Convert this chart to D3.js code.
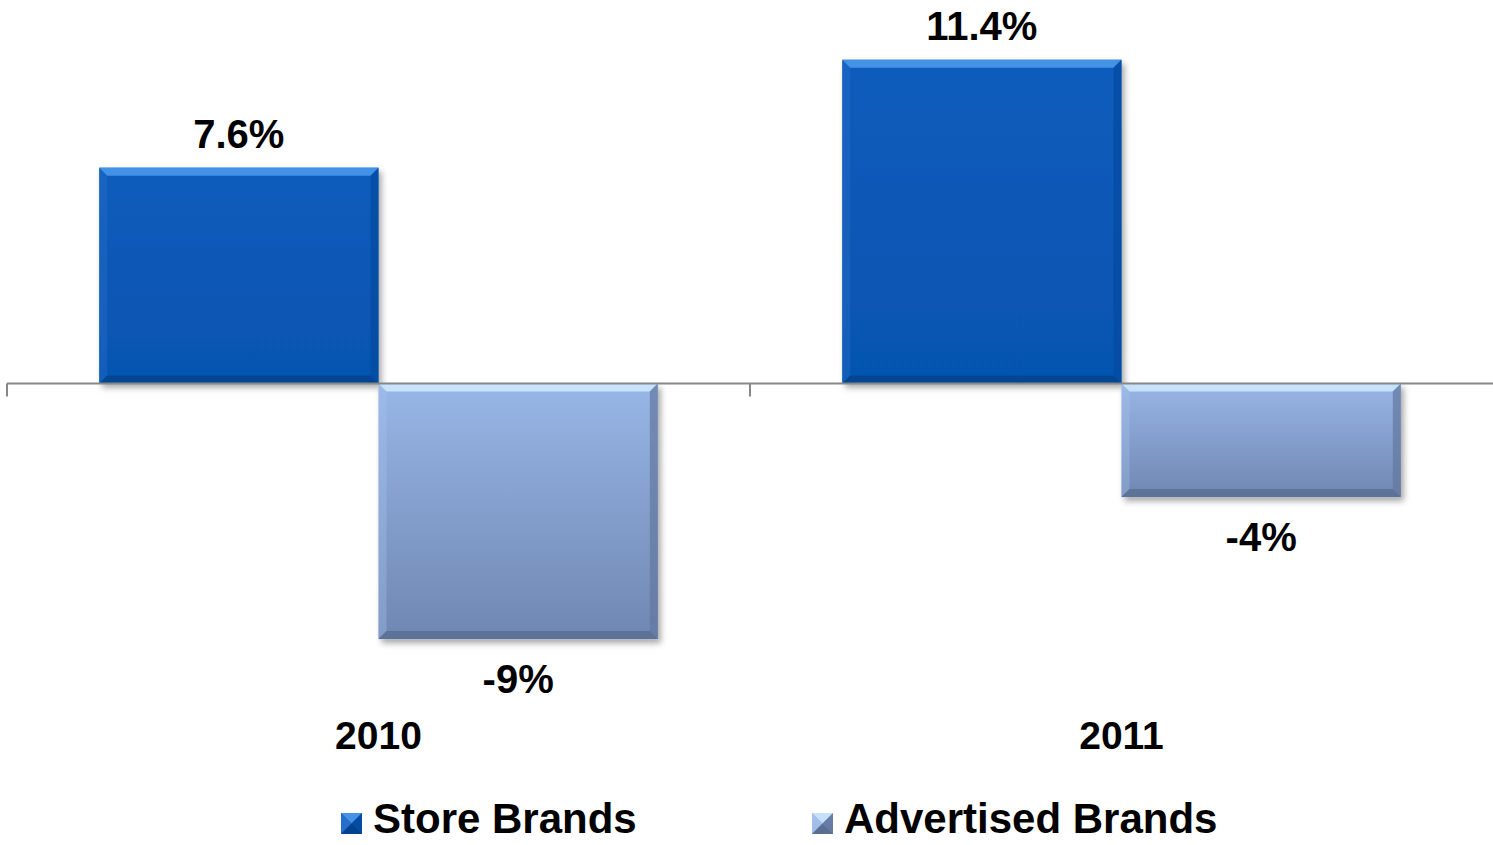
<!DOCTYPE html>
<html>
<head>
<meta charset="utf-8">
<script src="https://cdn.jsdelivr.net/npm/d3@7"></script>
<style>
  html, body { margin: 0; padding: 0; background: #fff; }
  svg { display: block; }
  text { font-family: "Liberation Sans", Arial, sans-serif; font-weight: bold; fill: #000; }
</style>
</head>
<body>
<svg id="chart" width="1493" height="845"></svg>
<script>
// Year-over-year unit sales change, store brands vs advertised brands
const categories = ["2010", "2011"];
const seriesNames = ["Store Brands", "Advertised Brands"];
const storeBrands = [7.6, 11.4];
const advertisedBrands = [-9, -4];
const valueLabels = [["7.6%", "-9%"], ["11.4%", "-4%"]];

const W = 1493, H = 845;
const svg = d3.select("#chart");
const defs = svg.append("defs");

// Bar look: body gradient, bevel colours per series
const styles = [
  { top: "#0a5cbc", bottom: "#0654b0", hiTop: "#4f9bec", hiSide: "#2a72cc", dark: "#033e88", darkSide: "#044a9f" },
  { top: "#98b6e6", bottom: "#6f87b2", hiTop: "#cfeaff", hiSide: "#a7c4ee", dark: "#56698c", darkSide: "#62779e" }
];
styles.forEach((s, i) => {
  const g = defs.append("linearGradient").attr("id", "body" + i)
    .attr("x1", 0).attr("y1", 0).attr("x2", 0).attr("y2", 1);
  g.append("stop").attr("offset", "0%").attr("stop-color", s.top);
  g.append("stop").attr("offset", "100%").attr("stop-color", s.bottom);
});
const shadow = defs.append("filter").attr("id", "shadow")
  .attr("x", "-10%").attr("y", "-10%").attr("width", "130%").attr("height", "130%");
shadow.append("feDropShadow").attr("dx", 3).attr("dy", 4).attr("stdDeviation", 3)
  .attr("flood-color", "#000").attr("flood-opacity", 0.35);

const y = d3.scaleLinear().domain([-10, 12]).range([667.5, 42.7]);
const x0 = d3.scaleBand().domain(categories).range([7, 1493]).padding(0);
const x1 = d3.scaleBand().domain(seriesNames).range([0, x0.bandwidth()])
  .paddingInner(0).paddingOuter(0.33);

const rows = categories.map((c, i) => ({
  cat: c,
  vals: [
    { s: 0, name: seriesNames[0], v: storeBrands[i], label: valueLabels[i][0] },
    { s: 1, name: seriesNames[1], v: advertisedBrands[i], label: valueLabels[i][1] }
  ]
}));

// Beveled rectangle: body, four edge trapezoids, shadow under everything
function bevelRect(g, x, yTop, w, h, s, idx, b) {
  const grp = g.append("g");
  grp.append("rect").attr("x", x).attr("y", yTop).attr("width", w).attr("height", h)
    .attr("fill", "url(#body" + idx + ")").attr("filter", "url(#shadow)");
  const x2 = x + w, y2 = yTop + h;
  const poly = (pts, fill, op) => grp.append("polygon")
    .attr("points", pts.map(p => p.join(",")).join(" ")).attr("fill", fill).attr("opacity", op);
  poly([[x, yTop], [x2, yTop], [x2 - b, yTop + b], [x + b, yTop + b]], s.hiTop, 0.85);
  poly([[x, yTop], [x + b, yTop + b], [x + b, y2 - b], [x, y2]], s.hiSide, 0.35);
  poly([[x2, yTop], [x2, y2], [x2 - b, y2 - b], [x2 - b, yTop + b]], s.darkSide, 0.7);
  poly([[x, y2], [x2, y2], [x2 - b, y2 - b], [x + b, y2 - b]], s.dark, 0.7);
  return grp;
}

const plot = svg.append("g");
const groups = plot.selectAll("g.cat").data(rows).join("g")
  .attr("class", "cat").attr("transform", d => `translate(${x0(d.cat)},0)`);

groups.each(function (d) {
  const g = d3.select(this);
  d.vals.forEach(v => {
    const yTop = y(Math.max(0, v.v));
    const h = Math.abs(y(v.v) - y(0));
    bevelRect(g, x1(v.name), yTop, x1.bandwidth(), h, styles[v.s], v.s, 8);
  });
});

// Zero axis with category separators
const axisY = y(0);
const axisG = svg.append("g");
axisG.append("line").attr("x1", 7).attr("x2", W).attr("y1", axisY).attr("y2", axisY)
  .attr("stroke", "#878787").attr("stroke-width", 2);
const tickXs = [x0(categories[0]), x0(categories[1])];
axisG.selectAll("line.tick").data(tickXs).join("line").attr("class", "tick")
  .attr("x1", d => d).attr("x2", d => d).attr("y1", axisY).attr("y2", axisY + 13)
  .attr("stroke", "#878787").attr("stroke-width", 2);

// Value labels
groups.each(function (d) {
  const g = d3.select(this);
  d.vals.forEach(v => {
    const cx = x1(v.name) + x1.bandwidth() / 2;
    const yy = v.v >= 0 ? y(v.v) - 20 : y(v.v) + 54;
    g.append("text").attr("x", cx).attr("y", yy).attr("text-anchor", "middle")
      .attr("font-size", 40).text(v.label);
  });
});

// Category labels
svg.selectAll("text.cat").data(categories).join("text").attr("class", "cat")
  .attr("x", d => x0(d) + x0.bandwidth() / 2).attr("y", 749)
  .attr("text-anchor", "middle").attr("font-size", 39).text(d => d);

// Legend
const legendX = [341, 812];
const leg = svg.selectAll("g.leg").data(seriesNames).join("g").attr("class", "leg")
  .attr("transform", (d, i) => `translate(${legendX[i]},813)`);
leg.each(function (d, i) {
  const g = d3.select(this);
  const s = styles[i], sz = 21, c = sz / 2;
  g.append("rect").attr("width", sz).attr("height", sz).attr("fill", "url(#body" + i + ")");
  const tri = (pts, fill) => g.append("polygon").attr("points", pts.map(p => p.join(",")).join(" "))
    .attr("fill", fill).attr("opacity", 0.85);
  tri([[0, 0], [sz, 0], [c, c]], s.hiTop);
  tri([[0, 0], [0, sz], [c, c]], s.hiSide);
  tri([[sz, 0], [sz, sz], [c, c]], s.darkSide);
  tri([[0, sz], [sz, sz], [c, c]], s.dark);
  g.append("text").attr("x", 32).attr("y", 20).attr("font-size", 42).text(d);
});
</script>
</body>
</html>
